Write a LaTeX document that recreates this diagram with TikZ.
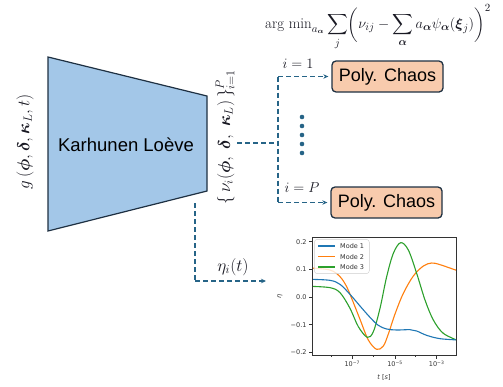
\documentclass[tikz,border=0pt]{standalone}
\usepackage{amsmath}
\usepackage{fontspec}
\newfontfamily\arialf{Liberation Sans}
\newfontfamily\mplf{DejaVu Sans}
\usetikzlibrary{arrows.meta}
\definecolor{klfill}{RGB}{163,199,232}
\definecolor{edgec}{RGB}{30,48,66}
\definecolor{pcfill}{RGB}{248,203,173}
\definecolor{linkc}{RGB}{38,100,135}
\definecolor{txtc}{RGB}{25,25,35}
\definecolor{mA}{HTML}{1F77B4}
\definecolor{mB}{HTML}{FF7F0E}
\definecolor{mC}{HTML}{2CA02C}
\begin{document}
\begin{tikzpicture}[x=1pt,y=-1pt,
  link/.style={draw=linkc, line width=1.3pt, dash pattern=on 5pt off 3pt},
  linkarrow/.style={link, -{Stealth[length=5pt,width=4.5pt]}},
  pcbox/.style={draw=edgec, line width=1.3pt, fill=pcfill, rounded corners=4pt,
    minimum width=111pt, minimum height=31pt, inner sep=0pt,
    font=\arialf\fontsize{18}{20}\selectfont, text=black},
  mathlbl/.style={text=txtc, inner sep=0pt},
  ticklbl/.style={font=\mplf\fontsize{6.5}{7}\selectfont, text=black!80, inner sep=0pt},
  curve/.style={line width=1.1pt, smooth, tension=0.55},
  dotc/.style={fill=linkc, draw=none, circle, minimum size=4.6pt, inner sep=0pt}
]
\useasboundingbox (0,0) rectangle (503,386);

% formula
\node[mathlbl, anchor=base, font=\fontsize{15}{18}\selectfont] (formula) at (378,28.5)
  {$\displaystyle \mathrm{arg\ min}_{a_{\boldsymbol{\alpha}}}\sum_{j}\biggl(\nu_{ij}-\sum_{\boldsymbol{\alpha}}a_{\boldsymbol{\alpha}}\psi_{\boldsymbol{\alpha}}(\boldsymbol{\xi}_j)\biggr)^{2}$};

% Karhunen-Loeve trapezoid
\draw[draw=edgec, line width=1.2pt, fill=klfill] (48,57) -- (207,96) -- (207,191) -- (48,231) -- cycle;
\node[font=\arialf\fontsize{18.5}{20}\selectfont, text=black] (kl) at (126,145) {Karhunen Loève};

% rotated labels
\node[mathlbl, rotate=90, font=\fontsize{17}{20}\selectfont] (gin) at (25,142)
  {$g\,(\boldsymbol{\phi},\boldsymbol{\delta},\boldsymbol{\kappa}_L,t)$};
\node[mathlbl, rotate=90, font=\fontsize{18.5}{21}\selectfont] (vout) at (225,137)
  {$\{\,\nu_i(\boldsymbol{\phi},\;\boldsymbol{\delta},\;\boldsymbol{\kappa}_L)\,\}_{i=1}^{P}$};

% Poly chaos boxes
\node[pcbox] (pc1) at (387.5,76.5) {Poly. Chaos};
\node[pcbox] (pcP) at (386.5,202.5) {Poly. Chaos};

% connectors
\coordinate (klout) at (237,143);
\coordinate (trunk) at (278,143);
\coordinate (trtop) at (278,76.5);
\coordinate (trbot) at (278,202.5);
\draw[link] (klout) -- (trunk);
\draw[link] (trtop) -- (trbot);
\draw[linkarrow] (trtop) -- ([xshift=-3pt]pc1.west);
\draw[linkarrow] (trbot) -- ([xshift=-3pt]pcP.west);
\node[mathlbl, font=\fontsize{14}{16}\selectfont] (i1) at (298,64) {$i=1$};
\node[mathlbl, font=\fontsize{14}{16}\selectfont] (iP) at (302,188) {$i=P$};

% dots
\foreach \yy [count=\k] in {117,126,135,144,153} \node[dotc] (dot\k) at (302,\yy) {};

% bottom connector
\coordinate (etastart) at (195,203);
\coordinate (etacorner) at (195,281);
\coordinate (etaend) at (266,281);
\draw[link] (etastart) -- (etacorner);
\draw[linkarrow] (etacorner) -- (etaend);
\node[mathlbl, font=\fontsize{17}{19}\selectfont] (eta) at (233,267) {$\eta_i(t)$};

% plot
\begin{scope}[shift={(280pt,-230pt)}, x=0.33333pt, y=-0.33333pt]
  \begin{scope}
    \clip (97,22) rectangle (528,375);
    \draw[mB, curve] plot coordinates {(90,114) (150,120) (180,140) (200,170) (215,205) (240,268) (265,330) (290,358) (310,348) (325,312) (345,252) (370,190) (400,138) (430,108) (455,99) (480,104) (535,123)};
    \draw[mC, curve] plot coordinates {(90,169) (150,173) (180,188) (210,235) (235,290) (262,322) (280,305) (300,235) (320,140) (340,70) (362,38) (385,60) (410,130) (435,210) (460,270) (490,310) (535,332)};
    \draw[mA, curve] plot coordinates {(90,148) (150,151) (180,163) (210,193) (240,228) (270,262) (295,286) (320,297) (350,300) (390,299) (410,303) (440,316) (480,326) (535,330)};
  \end{scope}
  % legend
  \draw[draw=black!20, fill=white, fill opacity=0.8, line width=0.4pt, rounded corners=3pt] (103,28) rectangle (268,131);
  \draw[mA, line width=1.1pt] (115,48) -- (165,48);
  \draw[mB, line width=1.1pt] (115,80) -- (165,80);
  \draw[mC, line width=1.1pt] (115,111) -- (165,111);
  \node[ticklbl, anchor=west] (lg1) at (180,48) {Mode 1};
  \node[ticklbl, anchor=west] (lg2) at (180,80) {Mode 2};
  \node[ticklbl, anchor=west] (lg3) at (180,111) {Mode 3};
  % axes
  \draw[black!80, line width=0.6pt] (97,22) rectangle (528,375);
  \foreach \yy/\lab in {35/0.2, 118/0.1, 202/0.0, 284/−0.1, 367/−0.2} {
    \draw[black!80, line width=0.6pt] (97,\yy) -- (86,\yy);
    \node[ticklbl, anchor=east] at (80,\yy) {\lab};
  }
  \foreach \xx/\lab in {217/7, 345/5, 470/3} {
    \draw[black!80, line width=0.6pt] (\xx,375) -- (\xx,386);
    \node[ticklbl, anchor=north] at (\xx,392) {10\textsuperscript{−\lab}};
  }
  \foreach \xx in {153,281,407} \draw[black!80, line width=0.4pt] (\xx,375) -- (\xx,381);
  \node[ticklbl, anchor=north] (xlab) at (312,432) {\textit{t} [\textit{s}]};
  \node[ticklbl, rotate=90] (ylab) at (0,200) {\textit{η}};
\end{scope}
\end{tikzpicture}
\end{document}
